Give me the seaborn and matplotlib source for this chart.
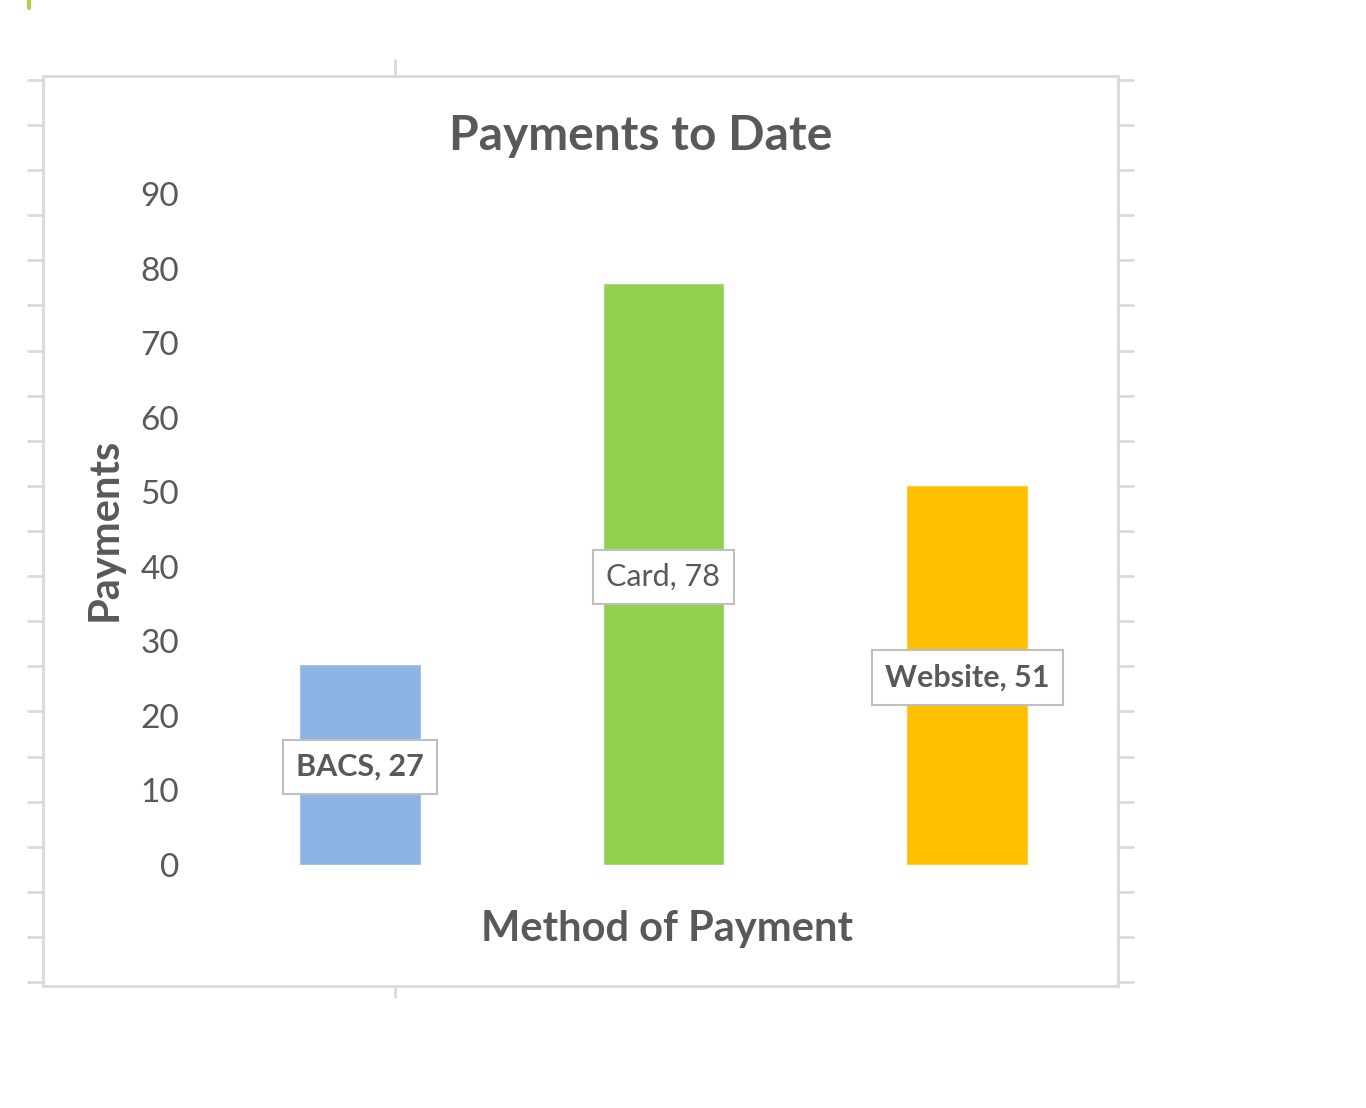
import matplotlib
matplotlib.use("Agg")
import matplotlib.pyplot as plt
import seaborn as sns
import pandas as pd
from matplotlib.lines import Line2D
from matplotlib.patches import Rectangle

# Payment data
methods = ["BACS", "Card", "Website"]
payments = [27, 78, 51]
bar_colors = ["#8EB4E3", "#92D050", "#FFC000"]
label_bold = [True, False, True]
y_ticks = [0, 10, 20, 30, 40, 50, 60, 70, 80, 90]

df = pd.DataFrame({"Method": methods, "Payments": payments})

sns.set_style("white")
plt.rcParams["font.family"] = ["Lato", "DejaVu Sans"]

W, H = 1366, 1108
fig = plt.figure(figsize=(W / 100, H / 100), dpi=100)


def fx(px):
    return px / W


def fy(py):
    return 1 - py / H


# plot area (pixel bounds of the reference)
left, right, top, bottom = 208, 1119, 194, 865
ax = fig.add_axes([fx(left), fy(bottom), fx(right) - fx(left), fy(top) - fy(bottom)])

sns.barplot(data=df, x="Method", y="Payments", hue="Method",
            palette=dict(zip(methods, bar_colors)), width=0.4,
            saturation=1, legend=False, ax=ax)

ax.set_xlim(-0.5, 2.5)
ax.set_ylim(0, 90)
ax.set_yticks(y_ticks)
ax.tick_params(axis="y", length=0, pad=21, labelsize=24, labelcolor="#595959")
ax.tick_params(axis="x", bottom=False, labelbottom=False)
for s in ax.spines.values():
    s.set_visible(False)

text_c = "#595959"
ax.set_ylabel("Payments", fontsize=30, fontweight="bold", color=text_c)
ax.yaxis.set_label_coords((105 - left) / (right - left), 0.5)
ax.yaxis.label.set_va("center")
ax.set_xlabel("Method of Payment", fontsize=30, fontweight="bold", color=text_c)
ax.xaxis.set_label_coords((667 - left) / (right - left), (bottom - 929) / (bottom - top))
ax.xaxis.label.set_va("center")

ax.text((641 - left) / (right - left), (bottom - 136) / (bottom - top),
        "Payments to Date", transform=ax.transAxes, ha="center", va="center",
        fontsize=34.5, fontweight="bold", color=text_c)

# data labels in the middle of each bar
for i, (m, v, b) in enumerate(zip(methods, payments, label_bold)):
    ax.text(i, v / 2 - 0.35, f"{m}, {v}", ha="center", va="center", fontsize=22,
            fontweight="bold" if b else "normal", color=text_c,
            bbox=dict(boxstyle="square,pad=0.43", fc="white", ec="#BFBFBF", lw=1.5))

# chart frame and sheet gridline stubs
frame_c = "#D9D9D9"
fig.add_artist(Rectangle((fx(43), fy(986)), fx(1118) - fx(43), fy(76) - fy(986),
                         transform=fig.transFigure, fill=False, ec=frame_c, lw=2))
for k in range(21):
    y = 80 + k * 45.1
    fig.add_artist(Line2D([fx(28), fx(43)], [fy(y), fy(y)], color=frame_c, lw=2))
    fig.add_artist(Line2D([fx(1118), fx(1133)], [fy(y), fy(y)], color=frame_c, lw=2))
fig.add_artist(Line2D([fx(395), fx(395)], [fy(60), fy(76)], color=frame_c, lw=2))
fig.add_artist(Line2D([fx(395), fx(395)], [fy(986), fy(997)], color=frame_c, lw=2))
fig.add_artist(Line2D([fx(28.5), fx(28.5)], [fy(0), fy(8)], color="#A9D44A", lw=3))

fig.savefig("out.png", dpi=100)
